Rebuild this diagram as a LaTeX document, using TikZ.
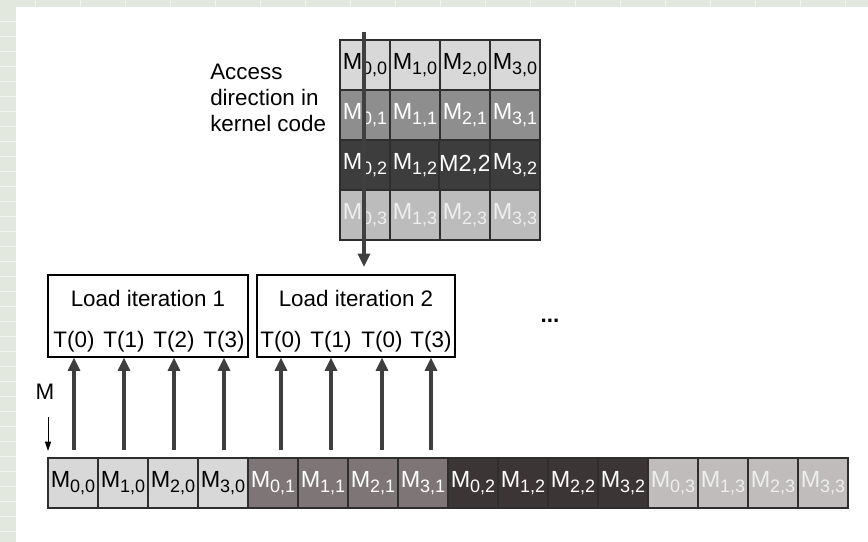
\documentclass[tikz,border=0pt]{standalone}
\usepackage{fontspec}
\setmainfont{Liberation Sans}
\usetikzlibrary{arrows.meta}
\definecolor{bgstrip}{HTML}{E3E8DF}
\definecolor{bgline}{HTML}{F1F4EF}
\definecolor{rowA}{HTML}{D8D8D8}
\definecolor{rowB}{HTML}{8E8E8E}
\definecolor{rowC}{HTML}{3D3D3D}
\definecolor{rowD}{HTML}{BCBCBC}
\definecolor{strB}{HTML}{7E7676}
\definecolor{strC}{HTML}{3C3535}
\definecolor{strD}{HTML}{C0BCBC}
\definecolor{cellline}{HTML}{2E2E2E}
\definecolor{arrowgray}{HTML}{3F3F3F}
\definecolor{paletext}{HTML}{EEEEEE}
\newcommand{\Msub}[1]{M\raisebox{-0.45ex}{\fontsize{13.5}{14}\selectfont #1}}
\tikzset{
  cell/.style={draw=cellline, line width=0.9pt, minimum width=37.5pt, minimum height=37.5pt,
    inner sep=0pt, font=\fontsize{17.5}{19}\selectfont},
  rA/.style={cell, fill=rowA, text=black},
  rB/.style={cell, fill=rowB, text=white},
  rC/.style={cell, fill=rowC, text=white},
  rD/.style={cell, fill=rowD, text=paletext},
  sA/.style={cell, fill=rowA, text=black},
  sB/.style={cell, fill=strB, text=white},
  sC/.style={cell, fill=strC, text=white},
  sD/.style={cell, fill=strD, text=paletext},
  loadbox/.style={draw=black, line width=0.8pt, minimum height=61.5pt, inner sep=0pt},
  lbl/.style={font=\fontsize{16.8}{19.5}\selectfont, inner sep=0pt},
  uparrow/.style={draw=arrowgray, line width=2.3pt, -{Triangle[width=9pt,length=10pt]}},
  thinarrow/.style={draw=black, line width=0.7pt, -{Triangle[width=4.5pt,length=7pt]}},
}
\begin{document}
\begin{tikzpicture}[x=0.75pt,y=-0.75pt]
\useasboundingbox (0,0) rectangle (868,542);
% background strips
\fill[white] (0,0) rectangle (868,542);
\fill[bgstrip] (0,0) rectangle (16,542);
\fill[bgstrip] (0,0) rectangle (868,7);
\foreach \yy in {21,36,...,542} \draw[bgline, line width=0.6pt] (0,\yy) -- (16,\yy);
\foreach \xx in {35,80,...,868} \draw[bgline, line width=0.6pt] (\xx,0) -- (\xx,7);

% top matrix
\node[rA] (m00) at (365,65) {\Msub{0,0}};
\node[rA] (m10) at (415,65) {\Msub{1,0}};
\node[rA] (m20) at (465,65) {\Msub{2,0}};
\node[rA] (m30) at (515,65) {\Msub{3,0}};
\node[rB] (m01) at (365,115) {\Msub{0,1}};
\node[rB] (m11) at (415,115) {\Msub{1,1}};
\node[rB] (m21) at (465,115) {\Msub{2,1}};
\node[rB] (m31) at (515,115) {\Msub{3,1}};
\node[rC] (m02) at (365,165) {\Msub{0,2}};
\node[rC] (m12) at (415,165) {\Msub{1,2}};
\node[rC] (m22) at (465,165) {M2,2};
\node[rC] (m32) at (515,165) {\Msub{3,2}};
\node[rD] (m03) at (365,215) {\Msub{0,3}};
\node[rD] (m13) at (415,215) {\Msub{1,3}};
\node[rD] (m23) at (465,215) {\Msub{2,3}};
\node[rD] (m33) at (515,215) {\Msub{3,3}};

% access direction
\node[lbl, align=left, anchor=west] (access) at (210,98) {Access\\direction in\\kernel code};
\coordinate (accstart) at (364,32);
\coordinate (accend) at (364,267);
\draw[uparrow] (accstart) -- (accend);

% load boxes
\node[loadbox, minimum width=150pt] (box1) at (148,316) {};
\node[loadbox, minimum width=148.5pt] (box2) at (356,316) {};
\node[lbl] (load1) at (148,298) {Load iteration 1};
\node[lbl] (load2) at (356,298) {Load iteration 2};
\node[lbl] (t1) at (74,342) {T(0)};
\node[lbl] (t2) at (124,342) {T(1)};
\node[lbl] (t3) at (174,342) {T(2)};
\node[lbl] (t4) at (224,342) {T(3)};
\node[lbl] (t5) at (281,342) {T(0)};
\node[lbl] (t6) at (331,342) {T(1)};
\node[lbl] (t7) at (382,342) {T(0)};
\node[lbl] (t8) at (431,342) {T(3)};
\node[lbl, font=\bfseries\fontsize{16.8}{19.5}\selectfont] (dots) at (550,321) {...};

% bottom strip
\node[sA] (c0) at (73,483) {\Msub{0,0}};
\node[sA] (c1) at (123,483) {\Msub{1,0}};
\node[sA] (c2) at (173,483) {\Msub{2,0}};
\node[sA] (c3) at (223,483) {\Msub{3,0}};
\node[sB] (c4) at (273,483) {\Msub{0,1}};
\node[sB] (c5) at (323,483) {\Msub{1,1}};
\node[sB] (c6) at (373,483) {\Msub{2,1}};
\node[sB] (c7) at (423,483) {\Msub{3,1}};
\node[sC] (c8) at (473,483) {\Msub{0,2}};
\node[sC] (c9) at (523,483) {\Msub{1,2}};
\node[sC] (c10) at (573,483) {\Msub{2,2}};
\node[sC] (c11) at (623,483) {\Msub{3,2}};
\node[sD] (c12) at (673,483) {\Msub{0,3}};
\node[sD] (c13) at (723,483) {\Msub{1,3}};
\node[sD] (c14) at (773,483) {\Msub{2,3}};
\node[sD] (c15) at (823,483) {\Msub{3,3}};

% arrows from memory to threads
\foreach \n/\xx/\bx in {1/74/box1,2/124/box1,3/174/box1,4/224/box1,5/281/box2,6/331/box2,7/382/box2,8/431/box2}{
  \coordinate (a\n) at (\xx,450);
  \draw[uparrow] (a\n) -- (a\n |- \bx.south);
}

% M label
\node[lbl] (mlabel) at (45,392) {M};
\coordinate (mstart) at (48,417);
\coordinate (mend) at (48,451);
\draw[thinarrow] (mstart) -- (mend);
\end{tikzpicture}
\end{document}
